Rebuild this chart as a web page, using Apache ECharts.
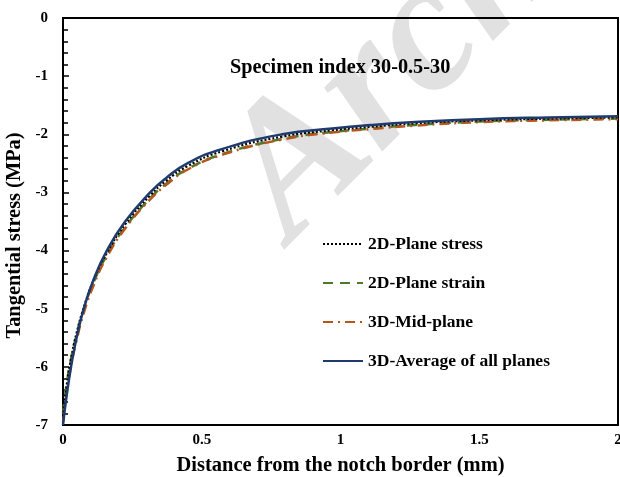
<!DOCTYPE html>
<html>
<head>
<meta charset="utf-8">
<script src="https://cdn.jsdelivr.net/npm/echarts@6/dist/echarts.min.js"></script>
<style>html,body{margin:0;padding:0;background:#fff}#c{width:620px;height:477px}</style>
</head>
<body>
<div id="c"></div>
<script>
var xs = [0, 0.013, 0.029, 0.049, 0.075, 0.11, 0.158, 0.224, 0.314, 0.372, 0.448, 0.575, 0.79, 0.97, 1.11, 1.27, 1.5, 1.75, 2.0];
var planeStress = [-6.85, -6.33, -5.86, -5.42, -4.98, -4.51, -4.04, -3.55, -3.05, -2.8, -2.55, -2.29, -2.04, -1.93, -1.87, -1.81, -1.76, -1.73, -1.71];
var planeStrain = [-6.8, -6.3, -5.86, -5.45, -5.0, -4.55, -4.08, -3.6, -3.1, -2.85, -2.6, -2.34, -2.08, -1.96, -1.9, -1.84, -1.78, -1.75, -1.73];
var midPlane = [-6.95, -6.45, -5.98, -5.54, -5.07, -4.6, -4.11, -3.62, -3.12, -2.87, -2.61, -2.35, -2.09, -1.97, -1.91, -1.85, -1.79, -1.76, -1.74];
var average = [-7.0, -6.5, -6.0, -5.5, -5.0, -4.5, -4.0, -3.5, -3.0, -2.75, -2.5, -2.25, -2.0, -1.9, -1.84, -1.79, -1.74, -1.71, -1.69];
var names = ['2D-Plane stress', '2D-Plane strain', '3D-Mid-plane', '3D-Average of all planes'];

function pairs(v){ return xs.map(function(x,i){ return [x, v[i]]; }); }
var font = '"Liberation Serif", "Times New Roman", serif';
var chart = echarts.init(document.getElementById('c'), null, {renderer:'canvas'});
chart.setOption({
  animation: false,
  backgroundColor: '#fff',
  title: {
    text: 'Specimen index 30-0.5-30',
    left: 225, top: 53,
    textStyle: {fontFamily: font, fontWeight: 'bold', fontSize: 20.3, color: '#000'}
  },
  graphic: [{
    type: 'text', z: -1, silent: true,
    x: 323, y: 275, rotation: 0.785,
    style: {text: 'Archive of SID', fill: 'rgba(205,205,205,0.6)', font: 'italic bold 188px "Liberation Serif", serif', textAlign: 'left', textVerticalAlign: 'bottom'}
  }],
  legend: {
    orient: 'vertical', left: 317, top: 230, itemGap: 21, itemWidth: 40, itemHeight: 14,
    data: names,
    itemStyle: {opacity: 0},
    textStyle: {fontFamily: font, fontWeight: 'bold', fontSize: 17.5, color: '#000'}
  },
  grid: {left: 63, right: 2, top: 18, bottom: 52, show: true, borderColor: '#000', borderWidth: 2, outerBoundsMode: 'none', containLabel: false},
  xAxis: {
    type: 'value', min: 0, max: 2, interval: 0.5,
    name: 'Distance from the notch border (mm)', nameLocation: 'middle', nameGap: 30,
    nameTextStyle: {fontFamily: font, fontWeight: 'bold', fontSize: 20.5, color: '#000'},
    axisLine: {show: true, lineStyle: {color: '#000', width: 2}},
    axisTick: {show: false},
    splitLine: {show: false},
    axisLabel: {fontFamily: font, fontWeight: 'bold', fontSize: 15, color: '#000', margin: 8,
      formatter: function(v){ return String(v); }}
  },
  yAxis: {
    type: 'value', min: -7, max: 0, interval: 1,
    name: 'Tangential stress (MPa)', nameLocation: 'middle', nameGap: 35,
    nameTextStyle: {fontFamily: font, fontWeight: 'bold', fontSize: 20.4, color: '#000', padding: [0, 28, 0, 0]},
    axisLine: {show: true, lineStyle: {color: '#000', width: 2}},
    axisTick: {show: true, inside: true, length: 6, lineStyle: {color: '#000', width: 1.5}},
    minorTick: {show: true, splitNumber: 5, length: 5, lineStyle: {color: '#000', width: 1.5}},
    splitLine: {show: false},
    axisLabel: {fontFamily: font, fontWeight: 'bold', fontSize: 15, color: '#000', margin: 15}
  },
  series: [
    {name: names[0], type: 'line', data: pairs(planeStress), smooth: 0.5, symbol: 'none', z: 3,
      lineStyle: {color: '#000', width: 2.2, type: [2, 2]}, itemStyle: {color: '#000'}},
    {name: names[1], type: 'line', data: pairs(planeStrain), smooth: 0.5, symbol: 'none', z: 2,
      lineStyle: {color: '#4F7A2B', width: 2.5, type: [10, 7]}, itemStyle: {color: '#4F7A2B'}},
    {name: names[2], type: 'line', data: pairs(midPlane), smooth: 0.5, symbol: 'none', z: 2,
      lineStyle: {color: '#B5561A', width: 2.5, type: [10, 5, 2, 5]}, itemStyle: {color: '#B5561A'}},
    {name: names[3], type: 'line', data: pairs(average), smooth: 0.5, symbol: 'none', z: 4,
      lineStyle: {color: '#1F3B6E', width: 2.5}, itemStyle: {color: '#1F3B6E'}}
  ]
});
</script>
</body>
</html>
